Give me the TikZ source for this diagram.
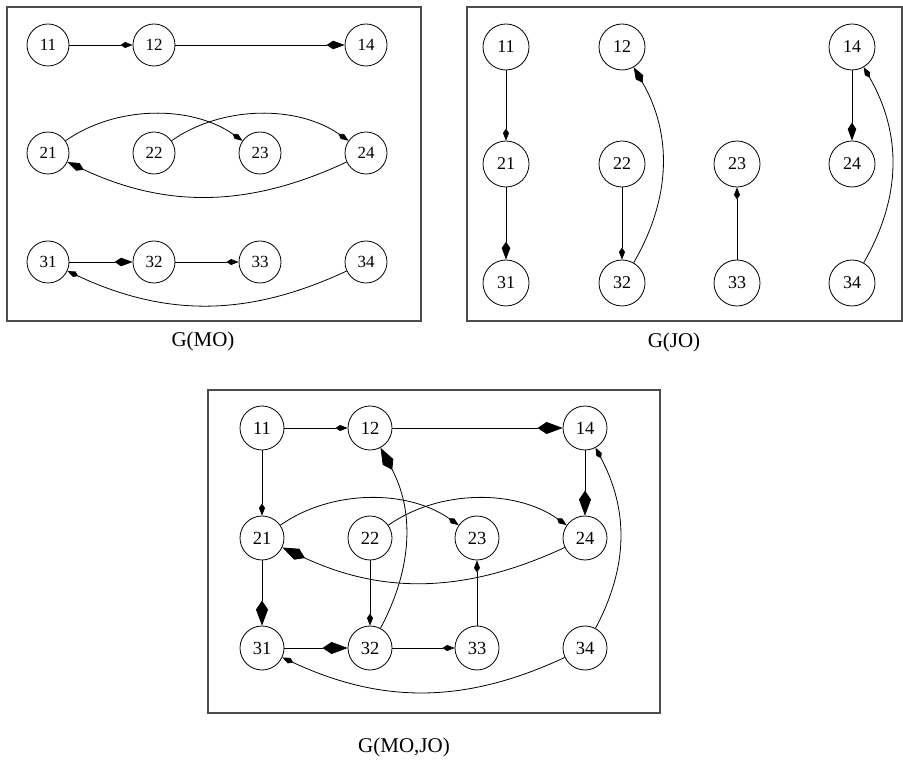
\documentclass[tikz,border=0pt]{standalone}
\usepackage{fontspec}
\setmainfont{Liberation Serif}
\usetikzlibrary{arrows.meta}
\begin{document}
\begin{tikzpicture}[x=1pt,y=1pt,
  frame/.style={draw=black!70,line width=1.2pt},
  mnode/.style={circle,draw,line width=0.8pt,minimum size=42pt,inner sep=0pt,font=\fontsize{17}{17}\selectfont},
  jnode/.style={mnode,minimum size=46pt,font=\fontsize{18}{18}\selectfont},
  cnode/.style={mnode,minimum size=44pt,font=\fontsize{18.5}{18.5}\selectfont},
  edge/.style={line width=0.8pt},
  sm/.style={edge,-{Kite[length=12pt,width=6pt,inset=4.5pt]}},
  md/.style={edge,-{Kite[length=18pt,width=8.5pt,inset=6.5pt]}},
  lg/.style={edge,-{Kite[length=25pt,width=12pt,inset=9pt]}},
  captext/.style={font=\fontsize{21}{21}\selectfont}
]
\useasboundingbox (0,0) rectangle (903,764);
% frames
\draw[frame] (7,757) rectangle (421,443);
\draw[frame] (467,757) rectangle (902,443);
\draw[frame] (208,374) rectangle (660,51);
\node[captext] (lmo) at (203,423) {G(MO)};
\node[captext] (ljo) at (674,422) {G(JO)};
\node[captext] (lmj) at (404,17) {G(MO,JO)};
% G(MO)
\foreach \n/\x/\y in {11/48/719,12/154/719,14/366/719,21/48/611,22/154/611,23/260/611,24/366/611,31/48/502,32/154/502,33/260/502,34/366/502}
  \node[mnode] (m\n) at (\x,\y) {\n};
\draw[sm] (m11) -- (m12);
\draw[md] (m12) -- (m14);
\draw[sm] (m21) to[out=35,in=145,looseness=0.9] (m23);
\draw[sm] (m22) to[out=35,in=145,looseness=0.9] (m24);
\draw[md] (m24) to[out=205,in=-25] (m21);
\draw[md] (m31) -- (m32);
\draw[sm] (m32) -- (m33);
\draw[sm] (m34) to[out=205,in=-25] (m31);
% G(JO)
\foreach \n/\x/\y in {11/506/717,12/622/717,14/852/717,21/506/600,22/622/600,23/737/600,24/852/600,31/506/481,32/622/481,33/737/481,34/852/481}
  \node[jnode] (j\n) at (\x,\y) {\n};
\draw[sm] (j11) -- (j21);
\draw[md] (j21) -- (j31);
\draw[sm] (j22) -- (j32);
\draw[md] (j32) to[out=60,in=-60] (j12);
\draw[sm] (j33) -- (j23);
\draw[md] (j14) -- (j24);
\draw[sm] (j34) to[out=60,in=-60] (j14);
% G(MO,JO)
\foreach \n/\x/\y in {11/262/336,12/370/336,14/585/336,21/262/226,22/370/226,23/477/226,24/585/226,31/262/116,32/370/116,33/477/116,34/585/116}
  \node[cnode] (c\n) at (\x,\y) {\n};
\draw[sm] (c11) -- (c12);
\draw[lg] (c12) -- (c14);
\draw[sm] (c11) -- (c21);
\draw[lg] (c14) -- (c24);
\draw[lg] (c32) to[out=62,in=-62] (c12);
\draw[sm] (c34) to[out=62,in=-62] (c14);
\draw[sm] (c21) to[out=35,in=145,looseness=0.9] (c23);
\draw[sm] (c22) to[out=35,in=145,looseness=0.9] (c24);
\draw[lg] (c24) to[out=205,in=-25] (c21);
\draw[lg] (c21) -- (c31);
\draw[sm] (c22) -- (c32);
\draw[sm] (c33) -- (c23);
\draw[lg] (c31) -- (c32);
\draw[sm] (c32) -- (c33);
\draw[sm] (c34) to[out=205,in=-25] (c31);
\end{tikzpicture}
\end{document}
